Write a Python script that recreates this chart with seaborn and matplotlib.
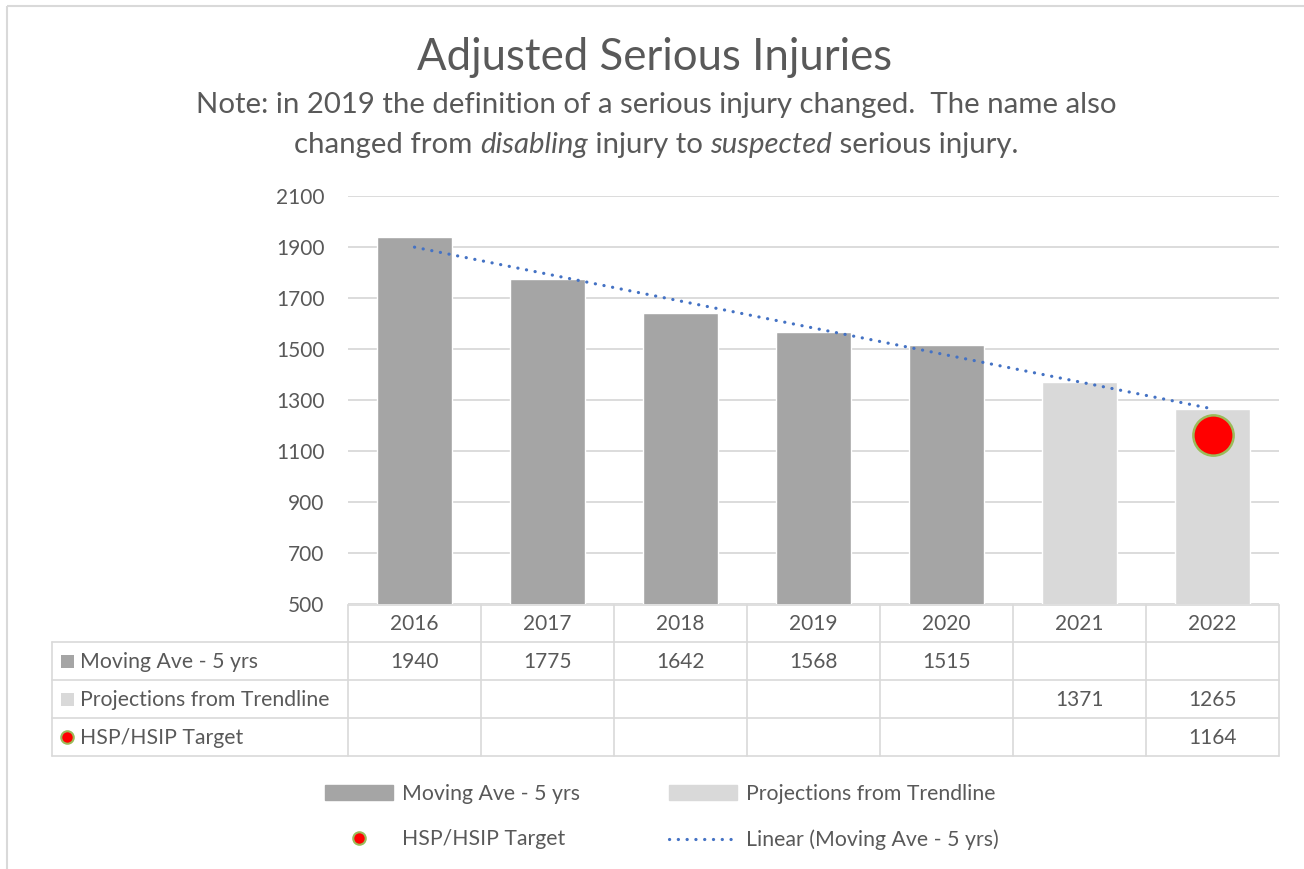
import matplotlib
matplotlib.use('Agg')
import matplotlib.pyplot as plt
import seaborn as sns
import numpy as np
import pandas as pd
from matplotlib.lines import Line2D
from matplotlib.patches import Patch, Rectangle

# values
years = ['2016', '2017', '2018', '2019', '2020', '2021', '2022']
moving_ave = [1940, 1775, 1642, 1568, 1515, np.nan, np.nan]
projections = [np.nan, np.nan, np.nan, np.nan, np.nan, 1371, 1265]
target = [np.nan, np.nan, np.nan, np.nan, np.nan, np.nan, 1164]
yticks = [500, 700, 900, 1100, 1300, 1500, 1700, 1900, 2100]

row_labels = ['Moving Ave - 5 yrs', 'Projections from Trendline', 'HSP/HSIP Target']
dark_grey = '#A5A5A5'
light_grey = '#D9D9D9'
text_col = '#595959'
line_col = '#D9D9D9'
trend_col = '#4472C4'

sns.set_theme(style='white')
plt.rcParams['font.family'] = ['Lato', 'DejaVu Sans']

W, H = 1304, 869
fig = plt.figure(figsize=(W / 100, H / 100), dpi=100)

# overlay in pixel coords for the border, table and title
ov = fig.add_axes([0, 0, 1, 1], zorder=0)
ov.set_xlim(0, W)
ov.set_ylim(H, 0)
ov.axis('off')

ax = fig.add_axes([348 / W, 1 - 604 / H, (1279 - 348) / W, (604 - 196) / H], zorder=1)
ax.patch.set_alpha(0)

# bars
df = pd.DataFrame({
    'year': years * 2,
    'value': moving_ave + projections,
    'series': [row_labels[0]] * 7 + [row_labels[1]] * 7,
})
sns.barplot(data=df, x='year', y='value', hue='series', dodge=False, width=0.57,
            palette={row_labels[0]: dark_grey, row_labels[1]: light_grey},
            ax=ax, legend=False, saturation=1, zorder=2)

# linear trendline of the moving average, extended over the projection years
xi = np.arange(len(years))
known = ~np.isnan(moving_ave)
coef = np.polyfit(xi[known], np.array(moving_ave)[known], 1)
ax.plot(xi, np.polyval(coef, xi), color=trend_col, lw=2.3,
        linestyle=(0, (0.05, 2.7)), dash_capstyle='round', zorder=4)

# target marker
ax.scatter(xi, target, s=29 ** 2, color='#FF0000', edgecolor='#9BBB59',
           linewidth=1.8, zorder=5)

ax.set_xlim(-0.5, len(years) - 0.5)
ax.set_ylim(500, 2100)
ax.set_yticks(yticks)
ax.set_yticklabels([str(t) for t in yticks])
ax.set_xticks(xi)
ax.set_xticklabels([])
ax.set_xlabel('')
ax.set_ylabel('')
ax.grid(axis='y', color=line_col, lw=1.3, zorder=0)
ax.set_axisbelow(True)
for s in ax.spines.values():
    s.set_visible(False)
fs = 15
ax.tick_params(axis='y', length=0, pad=17, labelsize=fs, labelcolor=text_col)
ax.tick_params(axis='x', length=0)

# chart border
ov.add_patch(Rectangle((7, 6), W, H, fill=False, edgecolor=line_col, lw=1.5))

# data table
fig.canvas.draw()
def xpix(v):
    return ax.transData.transform((v, 500))[0]

bounds = [xpix(i - 0.5) for i in range(len(years) + 1)]
rows_y = [605, 642, 680, 718, 756]
lw_t = 1.2
ov.plot([bounds[0], bounds[-1]], [rows_y[0], rows_y[0]], color=line_col, lw=lw_t)
for y in rows_y[1:]:
    ov.plot([52, bounds[-1]], [y, y], color=line_col, lw=lw_t)
ov.plot([52, 52], [rows_y[1], rows_y[-1]], color=line_col, lw=lw_t)
for b in bounds:
    ov.plot([b, b], [rows_y[0], rows_y[-1]], color=line_col, lw=lw_t)

for i, yr in enumerate(years):
    cx = (bounds[i] + bounds[i + 1]) / 2
    ov.text(cx, (rows_y[0] + rows_y[1]) / 2 + 1, yr, ha='center', va='center',
            fontsize=fs, color=text_col)
    for r, series in enumerate([moving_ave, projections, target]):
        v = series[i]
        if not np.isnan(v):
            ov.text(cx, (rows_y[r + 1] + rows_y[r + 2]) / 2 + 1, f'{v:.0f}',
                    ha='center', va='center', fontsize=fs, color=text_col)

for r, lab in enumerate(row_labels):
    cy = (rows_y[r + 1] + rows_y[r + 2]) / 2 + 1
    ov.text(80, cy, lab, ha='left', va='center', fontsize=fs + 0.3, color=text_col)
ov.add_patch(Rectangle((61, 655), 13, 13, color=dark_grey, lw=0))
ov.add_patch(Rectangle((61, 693), 13, 13, color=light_grey, lw=0))
ov.plot([67], [737], marker='o', ms=9, color='#FF0000', mec='#9BBB59', mew=1.5)

# title and note with italic words
ov.text(655, 57, 'Adjusted Serious Injuries', ha='center', va='center',
        fontsize=31.5, color=text_col)

renderer = fig.canvas.get_renderer()
def mixed_line(parts, cx, cy, size):
    texts = []
    for s, style in parts:
        t = ov.text(0, cy, s, ha='left', va='center', fontsize=size,
                    color=text_col, style=style)
        texts.append(t)
    widths = [t.get_window_extent(renderer).width for t in texts]
    x = cx - sum(widths) / 2
    for t, w in zip(texts, widths):
        t.set_x(x)
        x += w

mixed_line([('Note: in 2019 the definition of a serious injury changed.  The name also', 'normal')],
           656, 105, 21.2)
mixed_line([('changed from ', 'normal'), ('disabling', 'italic'), (' injury to ', 'normal'),
            ('suspected', 'italic'), (' serious injury.', 'normal')], 656, 145, 21.2)

# legend
handles = [
    Patch(color=dark_grey),
    Line2D([], [], marker='o', ls='none', ms=9, color='#FF0000', mec='#9BBB59', mew=1.5),
    Patch(color=light_grey),
    Line2D([], [], color=trend_col, lw=2.3, linestyle=(0, (0.05, 2.7)), dash_capstyle='round'),
]
labels = [row_labels[0], row_labels[2], row_labels[1], 'Linear (Moving Ave - 5 yrs)']
leg = fig.legend(handles, labels, ncol=2, loc='center', bbox_to_anchor=(662 / W, 1 - 817 / H),
                 frameon=False, fontsize=fs + 0.3, handlelength=3.2, handleheight=0.7,
                 handletextpad=0.4, columnspacing=4.2, labelspacing=1.2)
for t in leg.get_texts():
    t.set_color(text_col)

fig.savefig('out.png', dpi=100)
